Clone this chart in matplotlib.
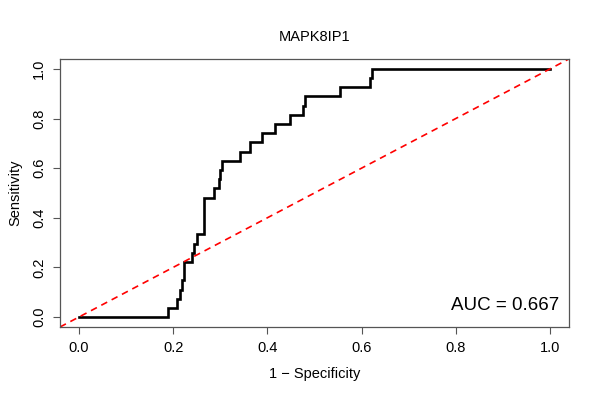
import matplotlib
matplotlib.use('Agg')
import matplotlib.pyplot as plt

plt.rcParams['font.family'] = ['Liberation Sans', 'DejaVu Sans']

# ROC path (1 - specificity, sensitivity)
fpr = [0.0, 0.189, 0.189, 0.208, 0.208, 0.215, 0.215, 0.220, 0.220, 0.223,
       0.223, 0.241, 0.241, 0.245, 0.245, 0.250, 0.250, 0.266, 0.266, 0.287,
       0.287, 0.297, 0.297, 0.300, 0.300, 0.304, 0.304, 0.342, 0.342, 0.364,
       0.364, 0.388, 0.388, 0.417, 0.417, 0.449, 0.449, 0.475, 0.475, 0.479,
       0.479, 0.554, 0.554, 0.619, 0.619, 0.623, 0.623, 1.0]
tpr = [0.0, 0.0, 0.037, 0.037, 0.074, 0.074, 0.111, 0.111, 0.148, 0.148,
       0.222, 0.222, 0.259, 0.259, 0.296, 0.296, 0.333, 0.333, 0.481, 0.481,
       0.519, 0.519, 0.556, 0.556, 0.593, 0.593, 0.630, 0.630, 0.667, 0.667,
       0.704, 0.704, 0.741, 0.741, 0.778, 0.778, 0.815, 0.815, 0.852, 0.852,
       0.889, 0.889, 0.926, 0.926, 0.963, 0.963, 1.0, 1.0]
ticks = [0.0, 0.2, 0.4, 0.6, 0.8, 1.0]
title = 'MAPK8IP1'
auc_label = 'AUC = 0.667'

fig = plt.figure(figsize=(6, 4), dpi=100)
ax = fig.add_axes([0.1, 0.1825, 0.848, 0.67])

ax.plot(fpr, tpr, color='black', lw=1.9, solid_joinstyle='miter')
ax.plot([-0.04, 1.04], [-0.04, 1.04], color='red', lw=1.2, ls=(0, (4, 3)))

ax.set_xlim(-0.04, 1.04)
ax.set_ylim(-0.04, 1.04)
ax.set_xticks(ticks)
ax.set_yticks(ticks)
ax.set_xticklabels(['%.1f' % t for t in ticks], fontsize=10.5)
ax.set_yticklabels(['%.1f' % t for t in ticks], fontsize=10.5, rotation=90, va='center')
ax.tick_params(direction='out', length=5, width=0.8, color='#555555', pad=5)

for s in ax.spines.values():
    s.set_color('#555555')
    s.set_linewidth(0.9)

ax.set_xlabel('1 \u2212 Specificity', fontsize=10.5, labelpad=9)
ax.set_ylabel('Sensitivity', fontsize=10.5, labelpad=7)
ax.set_title(title, fontsize=10.5, pad=13)

ax.text(1.02, 0.012, auc_label, fontsize=13.5, ha='right', va='bottom')

fig.savefig('out.png', dpi=100)
